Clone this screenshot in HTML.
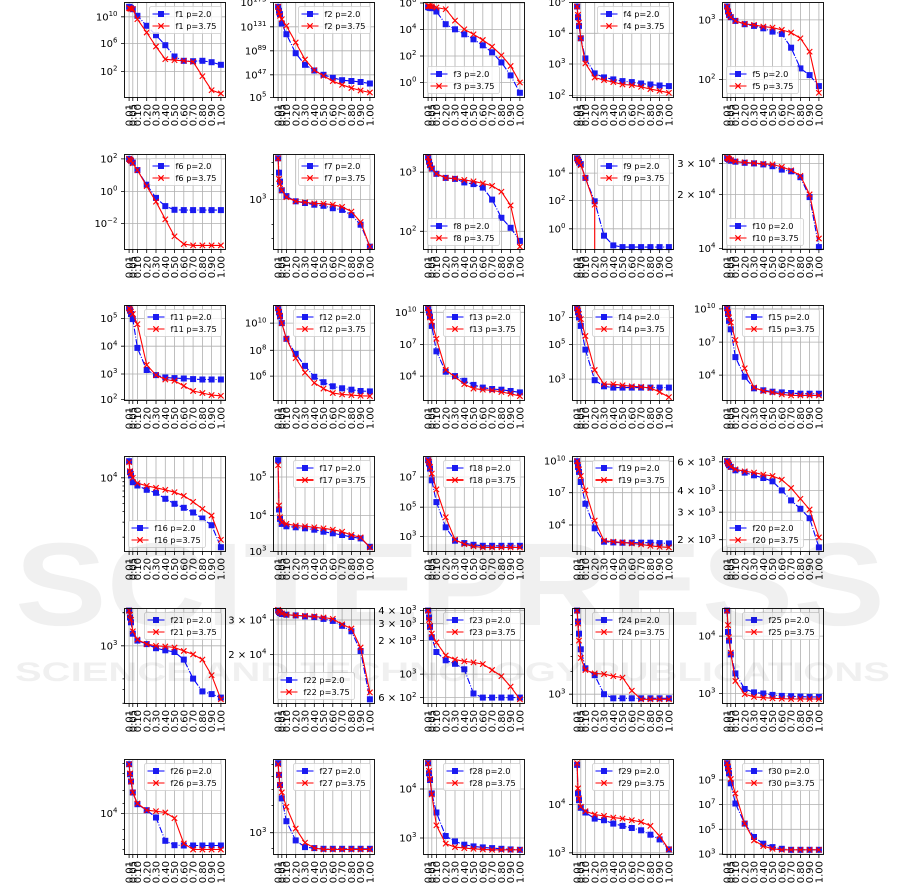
<!DOCTYPE html>
<html><head><meta charset="utf-8"><style>
html,body{margin:0;padding:0;background:#fff}
svg{display:block}
svg text{font-family:"DejaVu Sans","Liberation Sans",sans-serif;fill:#000}
.g{stroke:#b0b0b0;stroke-width:.8;fill:none}
.k{stroke:#000;stroke-width:.8;fill:none}
.sp{fill:none;stroke:#000;stroke-width:.9}
.yl text{font-size:10px;text-anchor:end}
.xl text{font-size:10px;text-anchor:end}
.b{fill:none;stroke:#0000ff;stroke-width:1.1;stroke-dasharray:6.4 1.6 1 1.6;marker-start:url(#ms);marker-mid:url(#ms);marker-end:url(#ms)}
.r{fill:none;stroke:#ff0000;stroke-width:1.1;marker-start:url(#mx);marker-mid:url(#mx);marker-end:url(#mx)}
.lb{fill:none;stroke:#0000ff;stroke-width:1.1;stroke-dasharray:6.4 1.6 1 1.6;marker-mid:url(#ms)}
.lr{fill:none;stroke:#ff0000;stroke-width:1.1;marker-mid:url(#mx)}
.lg rect{fill:#fff;fill-opacity:.8;stroke:#ccc;stroke-width:.8}
.lg text{font-size:8.2px}
</style></head><body>
<svg width="901" height="892" viewBox="0 0 901 892" xmlns="http://www.w3.org/2000/svg">
<defs>
<marker id="ms" markerUnits="userSpaceOnUse" markerWidth="8" markerHeight="8" refX="4" refY="4" overflow="visible"><rect x="1" y="1" width="6" height="6" fill="#1a1af0"/></marker>
<marker id="mx" markerUnits="userSpaceOnUse" markerWidth="8" markerHeight="8" refX="4" refY="4" overflow="visible"><path d="M1.3 1.3L6.7 6.7M6.7 1.3L1.3 6.7" stroke="#ff0000" stroke-width="1.1" fill="none"/></marker>
<g id="vx"><path stroke="#b0b0b0" stroke-width=".8" fill="none" d="M4.6 0V95M8.3 0V95M12.9 0V95M22.2 0V95M31.5 0V95M40.8 0V95M50 0V95M59.3 0V95M68.6 0V95M77.9 0V95M87.1 0V95M96.4 0V95"/><path stroke="#000" stroke-width=".8" fill="none" d="M4.6 95v3.5M8.3 95v3.5M12.9 95v3.5M22.2 95v3.5M31.5 95v3.5M40.8 95v3.5M50 95v3.5M59.3 95v3.5M68.6 95v3.5M77.9 95v3.5M87.1 95v3.5M96.4 95v3.5"/></g>
</defs>

<!-- f1 -->
<g transform="translate(124.5,2.5)">
<use href="#vx"/>
<path class="g" d="M0 14.3H101M0 41H101M0 69H101"/>
<polyline class="b" points="4.6,4.3 5.5,5 6.5,5.7 8.3,6.7 12.9,13.3 22.2,23.3 31.5,32.7 40.8,42.7 50,54 59.3,58.3 68.6,58.7 77.9,58.3 87.1,59.7 96.4,62.3"/>
<polyline class="r" points="4.6,5.7 5.5,6 6.5,6.3 8.3,6.7 12.9,16.7 22.2,30 31.5,44 40.8,56.7 50,57.7 59.3,58.3 68.6,59.3 77.9,73.7 87.1,87.7 96.4,91"/>
<rect class="sp" width="101" height="95"/>
<path class="k" d="M0 14.3h-3.5M0 41h-3.5M0 69h-3.5"/>
<g class="yl"><text x="-7" y="17.8">10<tspan dy="-4.3" font-size="7">10</tspan></text><text x="-7" y="44.5">10<tspan dy="-4.3" font-size="7">6</tspan></text><text x="-7" y="72.5">10<tspan dy="-4.3" font-size="7">2</tspan></text></g>
<g class="xl" transform="translate(0,101.5) rotate(-90)"><text y="8.2">0.01</text><text y="11.9">0.05</text><text y="16.5">0.10</text><text y="25.8">0.20</text><text y="35.1">0.30</text><text y="44.4">0.40</text><text y="53.6">0.50</text><text y="62.9">0.60</text><text y="72.2">0.70</text><text y="81.5">0.80</text><text y="90.7">0.90</text><text y="100">1.00</text></g>
<g class="lg" transform="translate(25,4)"><rect width="72" height="27" rx="2"/><polyline class="lb" points="3,7.5 11.5,7.5 20,7.5"/><polyline class="lr" points="3,19.5 11.5,19.5 20,19.5"/><text x="26" y="10.5">f1 p=2.0</text><text x="26" y="22.5">f1 p=3.75</text></g>
</g>

<!-- f2 -->
<g transform="translate(273.5,2.5)">
<use href="#vx"/>
<path class="g" d="M0 0H101M0 24.3H101M0 48.3H101M0 72.3H101"/>
<polyline class="b" points="4.6,4.3 5.5,8.3 6.5,11.7 8.3,21 12.9,31.7 22.2,50.7 31.5,62.3 40.8,68 50,72.3 59.3,75.3 68.6,77.7 77.9,78.5 87.1,79.5 96.4,81"/>
<polyline class="r" points="4.6,4.3 5.5,10 6.5,13.3 8.3,16.7 12.9,23.3 22.2,40 31.5,57 40.8,67.7 50,73.3 59.3,78.7 68.6,82.3 77.9,85.5 87.1,88 96.4,90"/>
<rect class="sp" width="101" height="95"/>
<path class="k" d="M0 0h-3.5M0 24.3h-3.5M0 48.3h-3.5M0 72.3h-3.5M0 95h-3.5"/>
<g class="yl"><text x="-7" y="3.5">10<tspan dy="-4.3" font-size="7">173</tspan></text><text x="-7" y="27.8">10<tspan dy="-4.3" font-size="7">131</tspan></text><text x="-7" y="51.8">10<tspan dy="-4.3" font-size="7">89</tspan></text><text x="-7" y="75.8">10<tspan dy="-4.3" font-size="7">47</tspan></text><text x="-7" y="98.5">10<tspan dy="-4.3" font-size="7">5</tspan></text></g>
<g class="xl" transform="translate(0,101.5) rotate(-90)"><text y="8.2">0.01</text><text y="11.9">0.05</text><text y="16.5">0.10</text><text y="25.8">0.20</text><text y="35.1">0.30</text><text y="44.4">0.40</text><text y="53.6">0.50</text><text y="62.9">0.60</text><text y="72.2">0.70</text><text y="81.5">0.80</text><text y="90.7">0.90</text><text y="100">1.00</text></g>
<g class="lg" transform="translate(25,4)"><rect width="72" height="27" rx="2"/><polyline class="lb" points="3,7.5 11.5,7.5 20,7.5"/><polyline class="lr" points="3,19.5 11.5,19.5 20,19.5"/><text x="26" y="10.5">f2 p=2.0</text><text x="26" y="22.5">f2 p=3.75</text></g>
</g>

<!-- f3 -->
<g transform="translate(423.5,2.5)">
<use href="#vx"/>
<path class="g" d="M0 0.5H101M0 27H101M0 53.5H101M0 80H101"/>
<polyline class="b" points="4.6,4.7 5.5,5 6.5,5.4 8.3,5.7 12.9,9 22.2,21.7 31.5,26.8 40.8,31.8 50,36.8 59.3,42.8 68.6,49.8 77.9,59.9 87.1,72.9 96.4,90.3"/>
<polyline class="r" points="4.6,3.3 5.5,3.7 6.5,3.8 8.3,4 12.9,5 22.2,6.7 31.5,18.1 40.8,26.8 50,31.8 59.3,37.5 68.6,44.1 77.9,52.8 87.1,63.5 96.4,80"/>
<rect class="sp" width="101" height="95"/>
<path class="k" d="M0 0.5h-3.5M0 27h-3.5M0 53.5h-3.5M0 80h-3.5"/>
<g class="yl"><text x="-7" y="4">10<tspan dy="-4.3" font-size="7">6</tspan></text><text x="-7" y="30.5">10<tspan dy="-4.3" font-size="7">4</tspan></text><text x="-7" y="57">10<tspan dy="-4.3" font-size="7">2</tspan></text><text x="-7" y="83.5">10<tspan dy="-4.3" font-size="7">0</tspan></text></g>
<g class="xl" transform="translate(0,101.5) rotate(-90)"><text y="8.2">0.01</text><text y="11.9">0.05</text><text y="16.5">0.10</text><text y="25.8">0.20</text><text y="35.1">0.30</text><text y="44.4">0.40</text><text y="53.6">0.50</text><text y="62.9">0.60</text><text y="72.2">0.70</text><text y="81.5">0.80</text><text y="90.7">0.90</text><text y="100">1.00</text></g>
<g class="lg" transform="translate(4,64)"><rect width="72" height="27" rx="2"/><polyline class="lb" points="3,7.5 11.5,7.5 20,7.5"/><polyline class="lr" points="3,19.5 11.5,19.5 20,19.5"/><text x="26" y="10.5">f3 p=2.0</text><text x="26" y="22.5">f3 p=3.75</text></g>
</g>

<!-- f4 -->
<g transform="translate(572.5,2.5)">
<use href="#vx"/>
<path class="g" d="M0 0H101M0 30.8H101M0 61.5H101M0 93H101"/>
<polyline class="b" points="4.6,4 5.5,14.7 6.5,23.4 8.3,35.8 12.9,55.9 22.2,70.9 31.5,74.9 40.8,76.9 50,78.6 59.3,79.6 68.6,81 77.9,82 87.1,83 96.4,83.6"/>
<polyline class="r" points="4.6,4 5.5,12.4 6.5,20 8.3,35.8 12.9,60.9 22.2,75 31.5,77.6 40.8,79.6 50,82 59.3,82.6 68.6,84.3 77.9,86.6 87.1,88.3 96.4,90.3"/>
<rect class="sp" width="101" height="95"/>
<path class="k" d="M0 0h-3.5M0 30.8h-3.5M0 61.5h-3.5M0 93h-3.5"/>
<g class="yl"><text x="-7" y="3.5">10<tspan dy="-4.3" font-size="7">5</tspan></text><text x="-7" y="34.3">10<tspan dy="-4.3" font-size="7">4</tspan></text><text x="-7" y="65">10<tspan dy="-4.3" font-size="7">3</tspan></text><text x="-7" y="96.5">10<tspan dy="-4.3" font-size="7">2</tspan></text></g>
<g class="xl" transform="translate(0,101.5) rotate(-90)"><text y="8.2">0.01</text><text y="11.9">0.05</text><text y="16.5">0.10</text><text y="25.8">0.20</text><text y="35.1">0.30</text><text y="44.4">0.40</text><text y="53.6">0.50</text><text y="62.9">0.60</text><text y="72.2">0.70</text><text y="81.5">0.80</text><text y="90.7">0.90</text><text y="100">1.00</text></g>
<g class="lg" transform="translate(25,4)"><rect width="72" height="27" rx="2"/><polyline class="lb" points="3,7.5 11.5,7.5 20,7.5"/><polyline class="lr" points="3,19.5 11.5,19.5 20,19.5"/><text x="26" y="10.5">f4 p=2.0</text><text x="26" y="22.5">f4 p=3.75</text></g>
</g>

<!-- f5 -->
<g transform="translate(722.5,2.5)">
<use href="#vx"/>
<path class="g" d="M0 17.4H101M0 76.9H101"/>
<polyline class="b" points="4.6,4 5.5,9 6.5,12.4 8.3,14.7 12.9,18.4 22.2,21.7 31.5,23.4 40.8,25.8 50,29.1 59.3,31.4 68.6,45.2 77.9,65.9 87.1,72.6 96.4,83.6"/>
<polyline class="r" points="4.6,4 5.5,9 6.5,12.4 8.3,14.7 12.9,18.4 22.2,21.4 31.5,22.4 40.8,24.1 50,25.1 59.3,27.4 68.6,30.1 77.9,35.8 87.1,49.2 96.4,90.3"/>
<rect class="sp" width="101" height="95"/>
<path class="k" d="M0 17.4h-3.5M0 76.9h-3.5"/>
<g class="yl"><text x="-7" y="20.9">10<tspan dy="-4.3" font-size="7">3</tspan></text><text x="-7" y="80.4">10<tspan dy="-4.3" font-size="7">2</tspan></text></g>
<g class="xl" transform="translate(0,101.5) rotate(-90)"><text y="8.2">0.01</text><text y="11.9">0.05</text><text y="16.5">0.10</text><text y="25.8">0.20</text><text y="35.1">0.30</text><text y="44.4">0.40</text><text y="53.6">0.50</text><text y="62.9">0.60</text><text y="72.2">0.70</text><text y="81.5">0.80</text><text y="90.7">0.90</text><text y="100">1.00</text></g>
<g class="lg" transform="translate(4,64)"><rect width="72" height="27" rx="2"/><polyline class="lb" points="3,7.5 11.5,7.5 20,7.5"/><polyline class="lr" points="3,19.5 11.5,19.5 20,19.5"/><text x="26" y="10.5">f5 p=2.0</text><text x="26" y="22.5">f5 p=3.75</text></g>
</g>

<!-- f6 -->
<g transform="translate(124.5,154.5)">
<use href="#vx"/>
<path class="g" d="M0 4.4H101M0 37H101M0 68.9H101"/>
<polyline class="b" points="4.6,4.4 5.5,5.4 6.5,6.1 8.3,8.1 12.9,15.6 22.2,30.2 31.5,43.4 40.8,51.6 50,55.3 59.3,55.6 68.6,55.6 77.9,55.6 87.1,55.6 96.4,55.6"/>
<polyline class="r" points="4.6,4.4 5.5,5.4 6.5,6.4 8.3,8.8 12.9,15.6 22.2,31.6 31.5,47.2 40.8,64.8 50,81.8 59.3,89.6 68.6,90.9 77.9,90.9 87.1,90.9 96.4,90.9"/>
<rect class="sp" width="101" height="95"/>
<path class="k" d="M0 4.4h-3.5M0 37h-3.5M0 68.9h-3.5"/>
<g class="yl"><text x="-7" y="7.9">10<tspan dy="-4.3" font-size="7">2</tspan></text><text x="-7" y="40.5">10<tspan dy="-4.3" font-size="7">0</tspan></text><text x="-7" y="72.4">10<tspan dy="-4.3" font-size="7">−2</tspan></text></g>
<g class="xl" transform="translate(0,101.5) rotate(-90)"><text y="8.2">0.01</text><text y="11.9">0.05</text><text y="16.5">0.10</text><text y="25.8">0.20</text><text y="35.1">0.30</text><text y="44.4">0.40</text><text y="53.6">0.50</text><text y="62.9">0.60</text><text y="72.2">0.70</text><text y="81.5">0.80</text><text y="90.7">0.90</text><text y="100">1.00</text></g>
<g class="lg" transform="translate(25,4)"><rect width="72" height="27" rx="2"/><polyline class="lb" points="3,7.5 11.5,7.5 20,7.5"/><polyline class="lr" points="3,19.5 11.5,19.5 20,19.5"/><text x="26" y="10.5">f6 p=2.0</text><text x="26" y="22.5">f6 p=3.75</text></g>
</g>

<!-- f7 -->
<g transform="translate(273.5,154.5)">
<use href="#vx"/>
<path class="g" d="M0 45H101"/>
<polyline class="b" points="4.6,3.8 5.5,18.2 6.5,27.2 8.3,35.8 12.9,41.6 22.2,46.8 31.5,48.5 40.8,50.2 50,51.3 59.3,53.7 68.6,55.4 77.9,60.6 87.1,70.2 96.4,92.2"/>
<polyline class="r" points="4.6,3.8 5.5,24.4 6.5,29.6 8.3,35.8 12.9,42.7 22.2,46.8 31.5,47.8 40.8,48.9 50,49.2 59.3,50.2 68.6,52.3 77.9,57.1 87.1,67.5 96.4,92.2"/>
<rect class="sp" width="101" height="95"/>
<path class="k" d="M0 45h-3.5M0 8h-2M0 20h-2M0 31h-2M0 70h-2M0 84h-2"/>
<g class="yl"><text x="-7" y="48.5">10<tspan dy="-4.3" font-size="7">3</tspan></text></g>
<g class="xl" transform="translate(0,101.5) rotate(-90)"><text y="8.2">0.01</text><text y="11.9">0.05</text><text y="16.5">0.10</text><text y="25.8">0.20</text><text y="35.1">0.30</text><text y="44.4">0.40</text><text y="53.6">0.50</text><text y="62.9">0.60</text><text y="72.2">0.70</text><text y="81.5">0.80</text><text y="90.7">0.90</text><text y="100">1.00</text></g>
<g class="lg" transform="translate(25,4)"><rect width="72" height="27" rx="2"/><polyline class="lb" points="3,7.5 11.5,7.5 20,7.5"/><polyline class="lr" points="3,19.5 11.5,19.5 20,19.5"/><text x="26" y="10.5">f7 p=2.0</text><text x="26" y="22.5">f7 p=3.75</text></g>
</g>

<!-- f8 -->
<g transform="translate(423.5,154.5)">
<use href="#vx"/>
<path class="g" d="M0 17.6H101M0 76.8H101"/>
<polyline class="b" points="4.6,2.8 5.5,7.2 6.5,10.7 8.3,14.1 12.9,19.3 22.2,23.4 31.5,24.4 40.8,27.9 50,29.6 59.3,33.1 68.6,45.1 77.9,63.3 87.1,73.3 96.4,86.4"/>
<polyline class="r" points="4.6,2.8 5.5,7.2 6.5,10.7 8.3,14.1 12.9,19.3 22.2,23.4 31.5,24.1 40.8,25.5 50,26.8 59.3,28.9 68.6,31.3 77.9,37.2 87.1,50.9 96.4,92.2"/>
<rect class="sp" width="101" height="95"/>
<path class="k" d="M0 17.6h-3.5M0 76.8h-3.5"/>
<g class="yl"><text x="-7" y="21.1">10<tspan dy="-4.3" font-size="7">3</tspan></text><text x="-7" y="80.3">10<tspan dy="-4.3" font-size="7">2</tspan></text></g>
<g class="xl" transform="translate(0,101.5) rotate(-90)"><text y="8.2">0.01</text><text y="11.9">0.05</text><text y="16.5">0.10</text><text y="25.8">0.20</text><text y="35.1">0.30</text><text y="44.4">0.40</text><text y="53.6">0.50</text><text y="62.9">0.60</text><text y="72.2">0.70</text><text y="81.5">0.80</text><text y="90.7">0.90</text><text y="100">1.00</text></g>
<g class="lg" transform="translate(4,64)"><rect width="72" height="27" rx="2"/><polyline class="lb" points="3,7.5 11.5,7.5 20,7.5"/><polyline class="lr" points="3,19.5 11.5,19.5 20,19.5"/><text x="26" y="10.5">f8 p=2.0</text><text x="26" y="22.5">f8 p=3.75</text></g>
</g>

<!-- f9 -->
<g transform="translate(572.5,154.5)">
<use href="#vx"/>
<path class="g" d="M0 18.6H101M0 46.1H101M0 74.3H101"/>
<polyline class="b" points="4.6,3.8 5.5,5.5 6.5,7.2 8.3,9.6 12.9,23.4 22.2,46.8 31.5,81.2 40.8,90.9 50,92.6 59.3,92.6 68.6,92.6 77.9,92.6 87.1,92.6 96.4,92.6"/>
<path d="M22.2 50.2V95" stroke="#ff0000" stroke-width="1.1" fill="none"/>
<polyline class="r" points="4.6,3.8 5.5,6.2 6.5,8.3 8.3,10.7 12.9,23.4 22.2,50.2"/>
<rect class="sp" width="101" height="95"/>
<path class="k" d="M0 18.6h-3.5M0 46.1h-3.5M0 74.3h-3.5"/>
<g class="yl"><text x="-7" y="22.1">10<tspan dy="-4.3" font-size="7">4</tspan></text><text x="-7" y="49.6">10<tspan dy="-4.3" font-size="7">2</tspan></text><text x="-7" y="77.8">10<tspan dy="-4.3" font-size="7">0</tspan></text></g>
<g class="xl" transform="translate(0,101.5) rotate(-90)"><text y="8.2">0.01</text><text y="11.9">0.05</text><text y="16.5">0.10</text><text y="25.8">0.20</text><text y="35.1">0.30</text><text y="44.4">0.40</text><text y="53.6">0.50</text><text y="62.9">0.60</text><text y="72.2">0.70</text><text y="81.5">0.80</text><text y="90.7">0.90</text><text y="100">1.00</text></g>
<g class="lg" transform="translate(25,4)"><rect width="72" height="27" rx="2"/><polyline class="lb" points="3,7.5 11.5,7.5 20,7.5"/><polyline class="lr" points="3,19.5 11.5,19.5 20,19.5"/><text x="26" y="10.5">f9 p=2.0</text><text x="26" y="22.5">f9 p=3.75</text></g>
</g>

<!-- f10 -->
<g transform="translate(722.5,154.5)">
<use href="#vx"/>
<path class="g" d="M0 8.9H101M0 39.9H101M0 94H101"/>
<polyline class="b" points="4.6,3.8 5.5,4.5 6.5,5.2 8.3,6.2 12.9,7.2 22.2,8.3 31.5,8.9 40.8,9.9 50,11.7 59.3,15.1 68.6,16.8 77.9,22.7 87.1,42.6 96.4,92.6"/>
<polyline class="r" points="4.6,3.1 5.5,3.8 6.5,4.5 8.3,5.5 12.9,6.9 22.2,7.9 31.5,8.6 40.8,9.3 50,9.9 59.3,12.4 68.6,15.8 77.9,21.3 87.1,39.9 96.4,84"/>
<rect class="sp" width="101" height="95"/>
<path class="k" d="M0 8.9h-3.5M0 39.9h-3.5M0 94h-3.5"/>
<g class="yl"><text x="-7" y="12.4">3 × 10<tspan dy="-4.3" font-size="7">4</tspan></text><text x="-7" y="43.4">2 × 10<tspan dy="-4.3" font-size="7">4</tspan></text><text x="-7" y="97.5">10<tspan dy="-4.3" font-size="7">4</tspan></text></g>
<g class="xl" transform="translate(0,101.5) rotate(-90)"><text y="8.2">0.01</text><text y="11.9">0.05</text><text y="16.5">0.10</text><text y="25.8">0.20</text><text y="35.1">0.30</text><text y="44.4">0.40</text><text y="53.6">0.50</text><text y="62.9">0.60</text><text y="72.2">0.70</text><text y="81.5">0.80</text><text y="90.7">0.90</text><text y="100">1.00</text></g>
<g class="lg" transform="translate(4,64)"><rect width="77" height="27" rx="2"/><polyline class="lb" points="3,7.5 11.5,7.5 20,7.5"/><polyline class="lr" points="3,19.5 11.5,19.5 20,19.5"/><text x="26" y="10.5">f10 p=2.0</text><text x="26" y="22.5">f10 p=3.75</text></g>
</g>

<!-- f11 -->
<g transform="translate(124.5,305.5)">
<use href="#vx"/>
<path class="g" d="M0 12.9H101M0 40.7H101M0 68.5H101M0 94H101"/>
<polyline class="b" points="4.6,2.7 5.5,5.1 6.5,8.5 8.3,13.6 12.9,42.4 22.2,64.5 31.5,69.6 40.8,72 50,72.6 59.3,73 68.6,73.6 77.9,74 87.1,74 96.4,74"/>
<polyline class="r" points="4.6,2.7 5.5,4.1 6.5,6.1 8.3,8.5 12.9,18.7 22.2,59.4 31.5,69.6 40.8,74 50,75.3 59.3,80.4 68.6,85.5 77.9,87.5 87.1,89.6 96.4,90.3"/>
<rect class="sp" width="101" height="95"/>
<path class="k" d="M0 12.9h-3.5M0 40.7h-3.5M0 68.5h-3.5M0 94h-3.5"/>
<g class="yl"><text x="-7" y="16.4">10<tspan dy="-4.3" font-size="7">5</tspan></text><text x="-7" y="44.2">10<tspan dy="-4.3" font-size="7">4</tspan></text><text x="-7" y="72">10<tspan dy="-4.3" font-size="7">3</tspan></text><text x="-7" y="97.5">10<tspan dy="-4.3" font-size="7">2</tspan></text></g>
<g class="xl" transform="translate(0,101.5) rotate(-90)"><text y="8.2">0.01</text><text y="11.9">0.05</text><text y="16.5">0.10</text><text y="25.8">0.20</text><text y="35.1">0.30</text><text y="44.4">0.40</text><text y="53.6">0.50</text><text y="62.9">0.60</text><text y="72.2">0.70</text><text y="81.5">0.80</text><text y="90.7">0.90</text><text y="100">1.00</text></g>
<g class="lg" transform="translate(20,4)"><rect width="77" height="27" rx="2"/><polyline class="lb" points="3,7.5 11.5,7.5 20,7.5"/><polyline class="lr" points="3,19.5 11.5,19.5 20,19.5"/><text x="26" y="10.5">f11 p=2.0</text><text x="26" y="22.5">f11 p=3.75</text></g>
</g>

<!-- f12 -->
<g transform="translate(273.5,305.5)">
<use href="#vx"/>
<path class="g" d="M0 17.6H101M0 44.8H101M0 70.6H101"/>
<polyline class="b" points="4.6,2.7 5.5,6.8 6.5,10.9 8.3,17.6 12.9,33.3 22.2,48.5 31.5,60.4 40.8,71.3 50,76.7 59.3,80.8 68.6,82.8 77.9,84.2 87.1,85.5 96.4,85.9"/>
<polyline class="r" points="4.6,2.7 5.5,6.1 6.5,10.2 8.3,17.6 12.9,33.3 22.2,52.6 31.5,67.2 40.8,77.4 50,83.1 59.3,87.5 68.6,88.9 77.9,89.6 87.1,90.3 96.4,90.6"/>
<rect class="sp" width="101" height="95"/>
<path class="k" d="M0 17.6h-3.5M0 44.8h-3.5M0 70.6h-3.5"/>
<g class="yl"><text x="-7" y="21.1">10<tspan dy="-4.3" font-size="7">10</tspan></text><text x="-7" y="48.3">10<tspan dy="-4.3" font-size="7">8</tspan></text><text x="-7" y="74.1">10<tspan dy="-4.3" font-size="7">6</tspan></text></g>
<g class="xl" transform="translate(0,101.5) rotate(-90)"><text y="8.2">0.01</text><text y="11.9">0.05</text><text y="16.5">0.10</text><text y="25.8">0.20</text><text y="35.1">0.30</text><text y="44.4">0.40</text><text y="53.6">0.50</text><text y="62.9">0.60</text><text y="72.2">0.70</text><text y="81.5">0.80</text><text y="90.7">0.90</text><text y="100">1.00</text></g>
<g class="lg" transform="translate(20,4)"><rect width="77" height="27" rx="2"/><polyline class="lb" points="3,7.5 11.5,7.5 20,7.5"/><polyline class="lr" points="3,19.5 11.5,19.5 20,19.5"/><text x="26" y="10.5">f12 p=2.0</text><text x="26" y="22.5">f12 p=3.75</text></g>
</g>

<!-- f13 -->
<g transform="translate(423.5,305.5)">
<use href="#vx"/>
<path class="g" d="M0 6.8H101M0 39H101M0 70.6H101"/>
<polyline class="b" points="4.6,2.7 5.5,6.8 6.5,10.9 8.3,20.4 12.9,45.8 22.2,66.2 31.5,70.6 40.8,75.3 50,79.4 59.3,82.1 68.6,83.5 77.9,84.2 87.1,85.5 96.4,86.9"/>
<polyline class="r" points="4.6,2.7 5.5,6.8 6.5,11.9 8.3,16.3 12.9,33.3 22.2,64.5 31.5,71.3 40.8,78.7 50,83.1 59.3,84.2 68.6,84.8 77.9,86.5 87.1,88.2 96.4,90.6"/>
<rect class="sp" width="101" height="95"/>
<path class="k" d="M0 6.8h-3.5M0 39h-3.5M0 70.6h-3.5"/>
<g class="yl"><text x="-7" y="10.3">10<tspan dy="-4.3" font-size="7">10</tspan></text><text x="-7" y="42.5">10<tspan dy="-4.3" font-size="7">7</tspan></text><text x="-7" y="74.1">10<tspan dy="-4.3" font-size="7">4</tspan></text></g>
<g class="xl" transform="translate(0,101.5) rotate(-90)"><text y="8.2">0.01</text><text y="11.9">0.05</text><text y="16.5">0.10</text><text y="25.8">0.20</text><text y="35.1">0.30</text><text y="44.4">0.40</text><text y="53.6">0.50</text><text y="62.9">0.60</text><text y="72.2">0.70</text><text y="81.5">0.80</text><text y="90.7">0.90</text><text y="100">1.00</text></g>
<g class="lg" transform="translate(20,4)"><rect width="77" height="27" rx="2"/><polyline class="lb" points="3,7.5 11.5,7.5 20,7.5"/><polyline class="lr" points="3,19.5 11.5,19.5 20,19.5"/><text x="26" y="10.5">f13 p=2.0</text><text x="26" y="22.5">f13 p=3.75</text></g>
</g>

<!-- f14 -->
<g transform="translate(572.5,305.5)">
<use href="#vx"/>
<path class="g" d="M0 11.9H101M0 39H101M0 73.6H101"/>
<polyline class="b" points="4.6,2.7 5.5,6.8 6.5,11.9 8.3,20.4 12.9,44.1 22.2,74.7 31.5,80.8 40.8,82.1 50,82.1 59.3,82.1 68.6,82.1 77.9,82.1 87.1,82.1 96.4,82.1"/>
<polyline class="r" points="4.6,2.7 5.5,5.1 6.5,8.5 8.3,13.6 12.9,30.5 22.2,64.5 31.5,78.7 40.8,78.7 50,79.8 59.3,80.8 68.6,81.4 77.9,82.5 87.1,86.5 96.4,91.6"/>
<rect class="sp" width="101" height="95"/>
<path class="k" d="M0 11.9h-3.5M0 39h-3.5M0 73.6h-3.5"/>
<g class="yl"><text x="-7" y="15.4">10<tspan dy="-4.3" font-size="7">7</tspan></text><text x="-7" y="42.5">10<tspan dy="-4.3" font-size="7">5</tspan></text><text x="-7" y="77.1">10<tspan dy="-4.3" font-size="7">3</tspan></text></g>
<g class="xl" transform="translate(0,101.5) rotate(-90)"><text y="8.2">0.01</text><text y="11.9">0.05</text><text y="16.5">0.10</text><text y="25.8">0.20</text><text y="35.1">0.30</text><text y="44.4">0.40</text><text y="53.6">0.50</text><text y="62.9">0.60</text><text y="72.2">0.70</text><text y="81.5">0.80</text><text y="90.7">0.90</text><text y="100">1.00</text></g>
<g class="lg" transform="translate(20,4)"><rect width="77" height="27" rx="2"/><polyline class="lb" points="3,7.5 11.5,7.5 20,7.5"/><polyline class="lr" points="3,19.5 11.5,19.5 20,19.5"/><text x="26" y="10.5">f14 p=2.0</text><text x="26" y="22.5">f14 p=3.75</text></g>
</g>

<!-- f15 -->
<g transform="translate(722.5,305.5)">
<use href="#vx"/>
<path class="g" d="M0 3.4H101M0 36.6H101M0 69.6H101"/>
<polyline class="b" points="4.6,2.7 5.5,8.5 6.5,15.3 8.3,23.8 12.9,51.6 22.2,71.3 31.5,82.8 40.8,84.8 50,86.2 59.3,86.9 68.6,87.5 77.9,88.2 87.1,88.2 96.4,88.2"/>
<polyline class="r" points="4.6,2.7 5.5,6.8 6.5,11.9 8.3,17 12.9,34.6 22.2,62.8 31.5,82.1 40.8,85.5 50,86.9 59.3,88.9 68.6,89.9 77.9,89.9 87.1,89.9 96.4,89.9"/>
<rect class="sp" width="101" height="95"/>
<path class="k" d="M0 3.4h-3.5M0 36.6h-3.5M0 69.6h-3.5"/>
<g class="yl"><text x="-7" y="6.9">10<tspan dy="-4.3" font-size="7">10</tspan></text><text x="-7" y="40.1">10<tspan dy="-4.3" font-size="7">7</tspan></text><text x="-7" y="73.1">10<tspan dy="-4.3" font-size="7">4</tspan></text></g>
<g class="xl" transform="translate(0,101.5) rotate(-90)"><text y="8.2">0.01</text><text y="11.9">0.05</text><text y="16.5">0.10</text><text y="25.8">0.20</text><text y="35.1">0.30</text><text y="44.4">0.40</text><text y="53.6">0.50</text><text y="62.9">0.60</text><text y="72.2">0.70</text><text y="81.5">0.80</text><text y="90.7">0.90</text><text y="100">1.00</text></g>
<g class="lg" transform="translate(20,4)"><rect width="77" height="27" rx="2"/><polyline class="lb" points="3,7.5 11.5,7.5 20,7.5"/><polyline class="lr" points="3,19.5 11.5,19.5 20,19.5"/><text x="26" y="10.5">f15 p=2.0</text><text x="26" y="22.5">f15 p=3.75</text></g>
</g>

<!-- f16 -->
<g transform="translate(124.5,456.5)">
<use href="#vx"/>
<path class="g" d="M0 21.3H101"/>
<polyline class="b" points="4.6,4.7 5.5,15.7 6.5,19 8.3,25.7 12.9,29 22.2,33.3 31.5,36.3 40.8,42.3 50,47.3 59.3,51.3 68.6,56 77.9,62 87.1,68.7 96.4,90.7"/>
<polyline class="r" points="4.6,5.7 5.5,14.7 6.5,17.3 8.3,21.3 12.9,26.7 22.2,29.3 31.5,31.3 40.8,33.3 50,35.7 59.3,39.3 68.6,45.3 77.9,52.3 87.1,59 96.4,83.3"/>
<rect class="sp" width="101" height="95"/>
<path class="k" d="M0 21.3h-3.5M0 80.7h-2M0 65.7h-2M0 55.1h-2M0 46.9h-2M0 40.2h-2M0 34.5h-2M0 29.5h-2M0 25.2h-2"/>
<g class="yl"><text x="-7" y="24.8">10<tspan dy="-4.3" font-size="7">4</tspan></text></g>
<g class="xl" transform="translate(0,101.5) rotate(-90)"><text y="8.2">0.01</text><text y="11.9">0.05</text><text y="16.5">0.10</text><text y="25.8">0.20</text><text y="35.1">0.30</text><text y="44.4">0.40</text><text y="53.6">0.50</text><text y="62.9">0.60</text><text y="72.2">0.70</text><text y="81.5">0.80</text><text y="90.7">0.90</text><text y="100">1.00</text></g>
<g class="lg" transform="translate(4,64)"><rect width="77" height="27" rx="2"/><polyline class="lb" points="3,7.5 11.5,7.5 20,7.5"/><polyline class="lr" points="3,19.5 11.5,19.5 20,19.5"/><text x="26" y="10.5">f16 p=2.0</text><text x="26" y="22.5">f16 p=3.75</text></g>
</g>

<!-- f17 -->
<g transform="translate(273.5,456.5)">
<use href="#vx"/>
<path class="g" d="M0 20.5H101M0 59.1H101"/>
<polyline class="b" points="4.6,3.7 5.5,53 6.5,62.4 8.3,67.4 12.9,69.8 22.2,70.8 31.5,71.8 40.8,73.2 50,75.2 59.3,76.8 68.6,78.5 77.9,80.5 87.1,81.9 96.4,90.3"/>
<polyline class="r" points="4.6,8.7 5.5,49 6.5,60.7 8.3,65.8 12.9,67.4 22.2,69.1 31.5,69.8 40.8,70.8 50,71.8 59.3,73.2 68.6,75.2 77.9,78.5 87.1,80.9 96.4,90.9"/>
<rect class="sp" width="101" height="95"/>
<path class="k" d="M0 20.5h-3.5M0 59.1h-3.5M0 95h-3.5"/>
<g class="yl"><text x="-7" y="24">10<tspan dy="-4.3" font-size="7">5</tspan></text><text x="-7" y="62.6">10<tspan dy="-4.3" font-size="7">4</tspan></text><text x="-7" y="98.5">10<tspan dy="-4.3" font-size="7">3</tspan></text></g>
<g class="xl" transform="translate(0,101.5) rotate(-90)"><text y="8.2">0.01</text><text y="11.9">0.05</text><text y="16.5">0.10</text><text y="25.8">0.20</text><text y="35.1">0.30</text><text y="44.4">0.40</text><text y="53.6">0.50</text><text y="62.9">0.60</text><text y="72.2">0.70</text><text y="81.5">0.80</text><text y="90.7">0.90</text><text y="100">1.00</text></g>
<g class="lg" transform="translate(20,4)"><rect width="77" height="27" rx="2"/><polyline class="lb" points="3,7.5 11.5,7.5 20,7.5"/><polyline class="lr" points="3,19.5 11.5,19.5 20,19.5" style="stroke-width:1.8"/><text x="26" y="10.5">f17 p=2.0</text><text x="26" y="22.5">f17 p=3.75</text></g>
</g>

<!-- f18 -->
<g transform="translate(423.5,456.5)">
<use href="#vx"/>
<path class="g" d="M0 20.5H101M0 50.7H101M0 79.9H101"/>
<polyline class="b" points="4.6,3.7 5.5,7 6.5,12.1 8.3,23.8 12.9,45.6 22.2,70.8 31.5,84.2 40.8,86.6 50,88.3 59.3,89.3 68.6,89.3 77.9,89.3 87.1,89.3 96.4,89.3"/>
<polyline class="r" points="4.6,3.7 5.5,5.4 6.5,10.4 8.3,17.1 12.9,32.9 22.2,60.7 31.5,83.2 40.8,87.6 50,89.9 59.3,90.9 68.6,90.9 77.9,90.9 87.1,90.9 96.4,90.9"/>
<rect class="sp" width="101" height="95"/>
<path class="k" d="M0 20.5h-3.5M0 50.7h-3.5M0 79.9h-3.5"/>
<g class="yl"><text x="-7" y="24">10<tspan dy="-4.3" font-size="7">7</tspan></text><text x="-7" y="54.2">10<tspan dy="-4.3" font-size="7">5</tspan></text><text x="-7" y="83.4">10<tspan dy="-4.3" font-size="7">3</tspan></text></g>
<g class="xl" transform="translate(0,101.5) rotate(-90)"><text y="8.2">0.01</text><text y="11.9">0.05</text><text y="16.5">0.10</text><text y="25.8">0.20</text><text y="35.1">0.30</text><text y="44.4">0.40</text><text y="53.6">0.50</text><text y="62.9">0.60</text><text y="72.2">0.70</text><text y="81.5">0.80</text><text y="90.7">0.90</text><text y="100">1.00</text></g>
<g class="lg" transform="translate(20,4)"><rect width="77" height="27" rx="2"/><polyline class="lb" points="3,7.5 11.5,7.5 20,7.5"/><polyline class="lr" points="3,19.5 11.5,19.5 20,19.5" style="stroke-width:1.8"/><text x="26" y="10.5">f18 p=2.0</text><text x="26" y="22.5">f18 p=3.75</text></g>
</g>

<!-- f19 -->
<g transform="translate(572.5,456.5)">
<use href="#vx"/>
<path class="g" d="M0 4.7H101M0 36.2H101M0 68.5H101"/>
<polyline class="b" points="4.6,4.7 5.5,10.4 6.5,15.4 8.3,25.5 12.9,47.3 22.2,71.8 31.5,85.2 40.8,85.9 50,86.2 59.3,86.2 68.6,86.2 77.9,86.2 87.1,86.6 96.4,86.9"/>
<polyline class="r" points="4.6,4.7 5.5,8.7 6.5,12.8 8.3,19.5 12.9,33.9 22.2,64.1 31.5,84.2 40.8,85.2 50,85.9 59.3,86.9 68.6,87.9 77.9,89.3 87.1,90.3 96.4,90.9"/>
<rect class="sp" width="101" height="95"/>
<path class="k" d="M0 4.7h-3.5M0 36.2h-3.5M0 68.5h-3.5"/>
<g class="yl"><text x="-7" y="8.2">10<tspan dy="-4.3" font-size="7">10</tspan></text><text x="-7" y="39.7">10<tspan dy="-4.3" font-size="7">7</tspan></text><text x="-7" y="72">10<tspan dy="-4.3" font-size="7">4</tspan></text></g>
<g class="xl" transform="translate(0,101.5) rotate(-90)"><text y="8.2">0.01</text><text y="11.9">0.05</text><text y="16.5">0.10</text><text y="25.8">0.20</text><text y="35.1">0.30</text><text y="44.4">0.40</text><text y="53.6">0.50</text><text y="62.9">0.60</text><text y="72.2">0.70</text><text y="81.5">0.80</text><text y="90.7">0.90</text><text y="100">1.00</text></g>
<g class="lg" transform="translate(20,4)"><rect width="77" height="27" rx="2"/><polyline class="lb" points="3,7.5 11.5,7.5 20,7.5"/><polyline class="lr" points="3,19.5 11.5,19.5 20,19.5" style="stroke-width:1.8"/><text x="26" y="10.5">f19 p=2.0</text><text x="26" y="22.5">f19 p=3.75</text></g>
</g>

<!-- f20 -->
<g transform="translate(722.5,456.5)">
<use href="#vx"/>
<path class="g" d="M0 5.4H101M0 33.9H101M0 55.7H101M0 83.2H101"/>
<polyline class="b" points="4.6,4.7 5.5,7 6.5,8.7 8.3,10.4 12.9,13.8 22.2,16.1 31.5,18.8 40.8,21.5 50,24.8 59.3,33.9 68.6,43.9 77.9,52.3 87.1,61.7 96.4,90.9"/>
<polyline class="r" points="4.6,4.7 5.5,6.4 6.5,8 8.3,10.4 12.9,12.8 22.2,14.8 31.5,16.1 40.8,18.1 50,19.5 59.3,23.2 68.6,31.5 77.9,42.3 87.1,53 96.4,80.9"/>
<rect class="sp" width="101" height="95"/>
<path class="k" d="M0 5.4h-3.5M0 33.9h-3.5M0 55.7h-3.5M0 83.2h-3.5"/>
<g class="yl"><text x="-7" y="8.9">6 × 10<tspan dy="-4.3" font-size="7">3</tspan></text><text x="-7" y="37.4">4 × 10<tspan dy="-4.3" font-size="7">3</tspan></text><text x="-7" y="59.2">3 × 10<tspan dy="-4.3" font-size="7">3</tspan></text><text x="-7" y="86.7">2 × 10<tspan dy="-4.3" font-size="7">3</tspan></text></g>
<g class="xl" transform="translate(0,101.5) rotate(-90)"><text y="8.2">0.01</text><text y="11.9">0.05</text><text y="16.5">0.10</text><text y="25.8">0.20</text><text y="35.1">0.30</text><text y="44.4">0.40</text><text y="53.6">0.50</text><text y="62.9">0.60</text><text y="72.2">0.70</text><text y="81.5">0.80</text><text y="90.7">0.90</text><text y="100">1.00</text></g>
<g class="lg" transform="translate(4,64)"><rect width="77" height="27" rx="2"/><polyline class="lb" points="3,7.5 11.5,7.5 20,7.5"/><polyline class="lr" points="3,19.5 11.5,19.5 20,19.5"/><text x="26" y="10.5">f20 p=2.0</text><text x="26" y="22.5">f20 p=3.75</text></g>
</g>

<!-- f21 -->
<g transform="translate(124.5,608.5)">
<use href="#vx"/>
<path class="g" d="M0 37.3H101"/>
<polyline class="b" points="4.6,2.1 5.5,9 6.5,13.8 8.3,25.2 12.9,32.1 22.2,35.6 31.5,39.7 40.8,41.8 50,43.5 59.3,51.1 68.6,70.1 77.9,82.9 87.1,85.6 96.4,89.1"/>
<polyline class="r" points="4.6,2.1 5.5,6.2 6.5,11.4 8.3,22.8 12.9,31.1 22.2,35.6 31.5,37.3 40.8,38 50,39 59.3,42.5 68.6,45.9 77.9,51.1 87.1,66.7 96.4,90.8"/>
<rect class="sp" width="101" height="95"/>
<path class="k" d="M0 37.3h-3.5M0 4.2h-2M0 70.4h-2M0 81h-2M0 94.8h-2"/>
<g class="yl"><text x="-7" y="40.8">10<tspan dy="-4.3" font-size="7">3</tspan></text></g>
<g class="xl" transform="translate(0,101.5) rotate(-90)"><text y="8.2">0.01</text><text y="11.9">0.05</text><text y="16.5">0.10</text><text y="25.8">0.20</text><text y="35.1">0.30</text><text y="44.4">0.40</text><text y="53.6">0.50</text><text y="62.9">0.60</text><text y="72.2">0.70</text><text y="81.5">0.80</text><text y="90.7">0.90</text><text y="100">1.00</text></g>
<g class="lg" transform="translate(20,4)"><rect width="77" height="27" rx="2"/><polyline class="lb" points="3,7.5 11.5,7.5 20,7.5"/><polyline class="lr" points="3,19.5 11.5,19.5 20,19.5"/><text x="26" y="10.5">f21 p=2.0</text><text x="26" y="22.5">f21 p=3.75</text></g>
</g>

<!-- f22 -->
<g transform="translate(273.5,608.5)">
<use href="#vx"/>
<path class="g" d="M0 11.5H101M0 45.9H101"/>
<polyline class="b" points="4.6,2.1 5.5,3.5 6.5,4.5 8.3,5.5 12.9,6.2 22.2,6.9 31.5,7.9 40.8,8.6 50,10.4 59.3,12.4 68.6,17.3 77.9,22.8 87.1,42.5 96.4,90.8"/>
<polyline class="r" points="4.6,1.4 5.5,2.8 6.5,3.8 8.3,4.8 12.9,6.2 22.2,6.9 31.5,7.3 40.8,7.9 50,9 59.3,10.4 68.6,15.9 77.9,20 87.1,39 96.4,83.9"/>
<rect class="sp" width="101" height="95"/>
<path class="k" d="M0 11.5h-3.5M0 45.9h-3.5"/>
<g class="yl"><text x="-7" y="15">3 × 10<tspan dy="-4.3" font-size="7">4</tspan></text><text x="-7" y="49.4">2 × 10<tspan dy="-4.3" font-size="7">4</tspan></text></g>
<g class="xl" transform="translate(0,101.5) rotate(-90)"><text y="8.2">0.01</text><text y="11.9">0.05</text><text y="16.5">0.10</text><text y="25.8">0.20</text><text y="35.1">0.30</text><text y="44.4">0.40</text><text y="53.6">0.50</text><text y="62.9">0.60</text><text y="72.2">0.70</text><text y="81.5">0.80</text><text y="90.7">0.90</text><text y="100">1.00</text></g>
<g class="lg" transform="translate(4,64)"><rect width="77" height="27" rx="2"/><polyline class="lb" points="3,7.5 11.5,7.5 20,7.5"/><polyline class="lr" points="3,19.5 11.5,19.5 20,19.5"/><text x="26" y="10.5">f22 p=2.0</text><text x="26" y="22.5">f22 p=3.75</text></g>
</g>

<!-- f23 -->
<g transform="translate(423.5,608.5)">
<use href="#vx"/>
<path class="g" d="M0 2.1H101M0 14.9H101M0 32.1H101M0 65.6H101M0 89.1H101"/>
<polyline class="b" points="4.6,2.1 5.5,9 6.5,18.3 8.3,28.7 12.9,43.5 22.2,51.8 31.5,55.3 40.8,60.8 50,85 59.3,89.1 68.6,89.1 77.9,89.1 87.1,89.1 96.4,89.1"/>
<polyline class="r" points="4.6,2.1 5.5,11.4 6.5,17.3 8.3,25.2 12.9,33.9 22.2,47 31.5,51.1 40.8,52.8 50,53.9 59.3,55.6 68.6,61.5 77.9,67.7 87.1,78.1 96.4,90.8"/>
<rect class="sp" width="101" height="95"/>
<path class="k" d="M0 2.1h-3.5M0 14.9h-3.5M0 32.1h-3.5M0 65.6h-3.5M0 89.1h-3.5"/>
<g class="yl"><text x="-7" y="5.6">4 × 10<tspan dy="-4.3" font-size="7">3</tspan></text><text x="-7" y="18.4">3 × 10<tspan dy="-4.3" font-size="7">3</tspan></text><text x="-7" y="35.6">2 × 10<tspan dy="-4.3" font-size="7">3</tspan></text><text x="-7" y="69.1">10<tspan dy="-4.3" font-size="7">3</tspan></text><text x="-7" y="92.6">6 × 10<tspan dy="-4.3" font-size="7">2</tspan></text></g>
<g class="xl" transform="translate(0,101.5) rotate(-90)"><text y="8.2">0.01</text><text y="11.9">0.05</text><text y="16.5">0.10</text><text y="25.8">0.20</text><text y="35.1">0.30</text><text y="44.4">0.40</text><text y="53.6">0.50</text><text y="62.9">0.60</text><text y="72.2">0.70</text><text y="81.5">0.80</text><text y="90.7">0.90</text><text y="100">1.00</text></g>
<g class="lg" transform="translate(20,4)"><rect width="77" height="27" rx="2"/><polyline class="lb" points="3,7.5 11.5,7.5 20,7.5"/><polyline class="lr" points="3,19.5 11.5,19.5 20,19.5"/><text x="26" y="10.5">f23 p=2.0</text><text x="26" y="22.5">f23 p=3.75</text></g>
</g>

<!-- f24 -->
<g transform="translate(572.5,608.5)">
<use href="#vx"/>
<path class="g" d="M0 85.7H101"/>
<polyline class="b" points="4.6,2.1 5.5,13.1 6.5,25.2 8.3,40.8 12.9,59.8 22.2,66.7 31.5,85.7 40.8,89.8 50,89.8 59.3,89.8 68.6,89.8 77.9,89.8 87.1,89.8 96.4,89.8"/>
<polyline class="r" points="4.6,2.1 5.5,14.9 6.5,32.1 8.3,49.4 12.9,61.5 22.2,64.9 31.5,65.6 40.8,67.7 50,69.1 59.3,82.2 68.6,90.8 77.9,90.8 87.1,90.8 96.4,90.8"/>
<rect class="sp" width="101" height="95"/>
<path class="k" d="M0 85.7h-3.5M0 7h-2M0 16h-2M0 26h-2M0 36h-2M0 48h-2M0 63h-2"/>
<g class="yl"><text x="-7" y="89.2">10<tspan dy="-4.3" font-size="7">3</tspan></text></g>
<g class="xl" transform="translate(0,101.5) rotate(-90)"><text y="8.2">0.01</text><text y="11.9">0.05</text><text y="16.5">0.10</text><text y="25.8">0.20</text><text y="35.1">0.30</text><text y="44.4">0.40</text><text y="53.6">0.50</text><text y="62.9">0.60</text><text y="72.2">0.70</text><text y="81.5">0.80</text><text y="90.7">0.90</text><text y="100">1.00</text></g>
<g class="lg" transform="translate(20,4)"><rect width="77" height="27" rx="2"/><polyline class="lb" points="3,7.5 11.5,7.5 20,7.5"/><polyline class="lr" points="3,19.5 11.5,19.5 20,19.5"/><text x="26" y="10.5">f24 p=2.0</text><text x="26" y="22.5">f24 p=3.75</text></g>
</g>

<!-- f25 -->
<g transform="translate(722.5,608.5)">
<use href="#vx"/>
<path class="g" d="M0 27.6H101M0 85H101"/>
<polyline class="b" points="4.6,2.1 5.5,23.5 6.5,32.1 8.3,45.9 12.9,64.9 22.2,80.5 31.5,83.9 40.8,85 50,86.4 59.3,87.4 68.6,87.7 77.9,88.1 87.1,88.4 96.4,88.4"/>
<polyline class="r" points="4.6,2.1 5.5,16.6 6.5,28.7 8.3,44.2 12.9,72.5 22.2,85.7 31.5,88.4 40.8,89.1 50,89.8 59.3,90.2 68.6,90.5 77.9,90.5 87.1,90.5 96.4,90.5"/>
<rect class="sp" width="101" height="95"/>
<path class="k" d="M0 27.6h-3.5M0 85h-3.5"/>
<g class="yl"><text x="-7" y="31.1">10<tspan dy="-4.3" font-size="7">4</tspan></text><text x="-7" y="88.5">10<tspan dy="-4.3" font-size="7">3</tspan></text></g>
<g class="xl" transform="translate(0,101.5) rotate(-90)"><text y="8.2">0.01</text><text y="11.9">0.05</text><text y="16.5">0.10</text><text y="25.8">0.20</text><text y="35.1">0.30</text><text y="44.4">0.40</text><text y="53.6">0.50</text><text y="62.9">0.60</text><text y="72.2">0.70</text><text y="81.5">0.80</text><text y="90.7">0.90</text><text y="100">1.00</text></g>
<g class="lg" transform="translate(20,4)"><rect width="77" height="27" rx="2"/><polyline class="lb" points="3,7.5 11.5,7.5 20,7.5"/><polyline class="lr" points="3,19.5 11.5,19.5 20,19.5"/><text x="26" y="10.5">f25 p=2.0</text><text x="26" y="22.5">f25 p=3.75</text></g>
</g>

<!-- f26 -->
<g transform="translate(124.5,759.5)">
<use href="#vx"/>
<path class="g" d="M0 54H101"/>
<polyline class="b" points="4.6,4.7 5.5,14.7 6.5,22 8.3,33 12.9,44.7 22.2,50.7 31.5,58 40.8,81.3 50,85.7 59.3,86 68.6,86 77.9,86 87.1,86 96.4,86"/>
<polyline class="r" points="4.6,4.7 5.5,14 6.5,22 8.3,33 12.9,44 22.2,50.7 31.5,51.7 40.8,53 50,58.7 59.3,84 68.6,90 77.9,90 87.1,90 96.4,90"/>
<rect class="sp" width="101" height="95"/>
<path class="k" d="M0 54h-3.5M0 4h-2M0 14h-2M0 31h-2M0 44h-2M0 70h-2M0 80h-2M0 90h-2"/>
<g class="yl"><text x="-7" y="57.5">10<tspan dy="-4.3" font-size="7">4</tspan></text></g>
<g class="xl" transform="translate(0,101.5) rotate(-90)"><text y="8.2">0.01</text><text y="11.9">0.05</text><text y="16.5">0.10</text><text y="25.8">0.20</text><text y="35.1">0.30</text><text y="44.4">0.40</text><text y="53.6">0.50</text><text y="62.9">0.60</text><text y="72.2">0.70</text><text y="81.5">0.80</text><text y="90.7">0.90</text><text y="100">1.00</text></g>
<g class="lg" transform="translate(20,4)"><rect width="77" height="27" rx="2"/><polyline class="lb" points="3,7.5 11.5,7.5 20,7.5"/><polyline class="lr" points="3,19.5 11.5,19.5 20,19.5"/><text x="26" y="10.5">f26 p=2.0</text><text x="26" y="22.5">f26 p=3.75</text></g>
</g>

<!-- f27 -->
<g transform="translate(273.5,759.5)">
<use href="#vx"/>
<path class="g" d="M0 73.2H101"/>
<polyline class="b" points="4.6,3.7 5.5,15.4 6.5,25.5 8.3,38.9 12.9,61.7 22.2,80.9 31.5,87.6 40.8,88.6 50,89.3 59.3,89.3 68.6,89.3 77.9,89.3 87.1,89.3 96.4,89.3"/>
<polyline class="r" points="4.6,4.7 5.5,15.4 6.5,25.5 8.3,32.9 12.9,47.3 22.2,69.1 31.5,83.2 40.8,88.6 50,89.9 59.3,89.9 68.6,89.9 77.9,89.9 87.1,89.9 96.4,89.9"/>
<rect class="sp" width="101" height="95"/>
<path class="k" d="M0 73.2h-3.5M0 5h-2M0 17h-2M0 30h-2M0 46h-2M0 89h-2"/>
<g class="yl"><text x="-7" y="76.7">10<tspan dy="-4.3" font-size="7">3</tspan></text></g>
<g class="xl" transform="translate(0,101.5) rotate(-90)"><text y="8.2">0.01</text><text y="11.9">0.05</text><text y="16.5">0.10</text><text y="25.8">0.20</text><text y="35.1">0.30</text><text y="44.4">0.40</text><text y="53.6">0.50</text><text y="62.9">0.60</text><text y="72.2">0.70</text><text y="81.5">0.80</text><text y="90.7">0.90</text><text y="100">1.00</text></g>
<g class="lg" transform="translate(20,4)"><rect width="77" height="27" rx="2"/><polyline class="lb" points="3,7.5 11.5,7.5 20,7.5"/><polyline class="lr" points="3,19.5 11.5,19.5 20,19.5"/><text x="26" y="10.5">f27 p=2.0</text><text x="26" y="22.5">f27 p=3.75</text></g>
</g>

<!-- f28 -->
<g transform="translate(423.5,759.5)">
<use href="#vx"/>
<path class="g" d="M0 29.5H101M0 78.5H101"/>
<polyline class="b" points="4.6,3.7 5.5,13.8 6.5,20.5 8.3,33.9 12.9,53 22.2,76.5 31.5,81.9 40.8,85.2 50,86.9 59.3,87.9 68.6,88.6 77.9,89.3 87.1,89.9 96.4,90.3"/>
<polyline class="r" points="4.6,3.7 5.5,11.4 6.5,19.5 8.3,34.9 12.9,65.8 22.2,84.2 31.5,87.6 40.8,88.6 50,89.3 59.3,89.9 68.6,90.3 77.9,90.3 87.1,90.3 96.4,90.3"/>
<rect class="sp" width="101" height="95"/>
<path class="k" d="M0 29.5h-3.5M0 78.5h-3.5"/>
<g class="yl"><text x="-7" y="33">10<tspan dy="-4.3" font-size="7">4</tspan></text><text x="-7" y="82">10<tspan dy="-4.3" font-size="7">3</tspan></text></g>
<g class="xl" transform="translate(0,101.5) rotate(-90)"><text y="8.2">0.01</text><text y="11.9">0.05</text><text y="16.5">0.10</text><text y="25.8">0.20</text><text y="35.1">0.30</text><text y="44.4">0.40</text><text y="53.6">0.50</text><text y="62.9">0.60</text><text y="72.2">0.70</text><text y="81.5">0.80</text><text y="90.7">0.90</text><text y="100">1.00</text></g>
<g class="lg" transform="translate(20,4)"><rect width="77" height="27" rx="2"/><polyline class="lb" points="3,7.5 11.5,7.5 20,7.5"/><polyline class="lr" points="3,19.5 11.5,19.5 20,19.5"/><text x="26" y="10.5">f28 p=2.0</text><text x="26" y="22.5">f28 p=3.75</text></g>
</g>

<!-- f29 -->
<g transform="translate(572.5,759.5)">
<use href="#vx"/>
<path class="g" d="M0 45H101M0 93.3H101"/>
<polyline class="b" points="4.6,5.4 5.5,33.9 6.5,40.6 8.3,48.3 12.9,53 22.2,59.1 31.5,60.7 40.8,64.1 50,66.4 59.3,68.5 68.6,70.8 77.9,75.2 87.1,79.9 96.4,89.9"/>
<polyline class="r" points="4.6,3.7 5.5,28.9 6.5,38.9 8.3,47.3 12.9,51.7 22.2,55 31.5,56.4 40.8,58.1 50,59.1 59.3,60.7 68.6,62.4 77.9,66.4 87.1,76.5 96.4,89.9"/>
<rect class="sp" width="101" height="95"/>
<path class="k" d="M0 45h-3.5M0 93.3h-3.5"/>
<g class="yl"><text x="-7" y="48.5">10<tspan dy="-4.3" font-size="7">4</tspan></text><text x="-7" y="96.8">10<tspan dy="-4.3" font-size="7">3</tspan></text></g>
<g class="xl" transform="translate(0,101.5) rotate(-90)"><text y="8.2">0.01</text><text y="11.9">0.05</text><text y="16.5">0.10</text><text y="25.8">0.20</text><text y="35.1">0.30</text><text y="44.4">0.40</text><text y="53.6">0.50</text><text y="62.9">0.60</text><text y="72.2">0.70</text><text y="81.5">0.80</text><text y="90.7">0.90</text><text y="100">1.00</text></g>
<g class="lg" transform="translate(20,4)"><rect width="77" height="27" rx="2"/><polyline class="lb" points="3,7.5 11.5,7.5 20,7.5"/><polyline class="lr" points="3,19.5 11.5,19.5 20,19.5"/><text x="26" y="10.5">f29 p=2.0</text><text x="26" y="22.5">f29 p=3.75</text></g>
</g>

<!-- f30 -->
<g transform="translate(722.5,759.5)">
<use href="#vx"/>
<path class="g" d="M0 20.5H101M0 45H101M0 69.8H101M0 94.6H101"/>
<polyline class="b" points="4.6,3.7 5.5,8.7 6.5,13.8 8.3,23.8 12.9,44 22.2,64.1 31.5,77.5 40.8,84.2 50,87.6 59.3,89.3 68.6,90.3 77.9,90.3 87.1,90.3 96.4,90.3"/>
<polyline class="r" points="4.6,3.7 5.5,7 6.5,11.4 8.3,19.5 12.9,33.9 22.2,64.1 31.5,80.9 40.8,86.6 50,89.3 59.3,90.3 68.6,90.3 77.9,90.3 87.1,90.3 96.4,90.3"/>
<rect class="sp" width="101" height="95"/>
<path class="k" d="M0 20.5h-3.5M0 45h-3.5M0 69.8h-3.5M0 94.6h-3.5"/>
<g class="yl"><text x="-7" y="24">10<tspan dy="-4.3" font-size="7">9</tspan></text><text x="-7" y="48.5">10<tspan dy="-4.3" font-size="7">7</tspan></text><text x="-7" y="73.3">10<tspan dy="-4.3" font-size="7">5</tspan></text><text x="-7" y="98.1">10<tspan dy="-4.3" font-size="7">3</tspan></text></g>
<g class="xl" transform="translate(0,101.5) rotate(-90)"><text y="8.2">0.01</text><text y="11.9">0.05</text><text y="16.5">0.10</text><text y="25.8">0.20</text><text y="35.1">0.30</text><text y="44.4">0.40</text><text y="53.6">0.50</text><text y="62.9">0.60</text><text y="72.2">0.70</text><text y="81.5">0.80</text><text y="90.7">0.90</text><text y="100">1.00</text></g>
<g class="lg" transform="translate(20,4)"><rect width="77" height="27" rx="2"/><polyline class="lb" points="3,7.5 11.5,7.5 20,7.5"/><polyline class="lr" points="3,19.5 11.5,19.5 20,19.5"/><text x="26" y="10.5">f30 p=2.0</text><text x="26" y="22.5">f30 p=3.75</text></g>
</g>

<!-- watermark -->
<g>
<text x="15" y="625" font-size="118" font-weight="bold" textLength="870" lengthAdjust="spacingAndGlyphs" style="font-family:'Liberation Sans',sans-serif;fill:#000;fill-opacity:.06">SCITEPRESS</text>
<text x="15" y="681" font-size="27" font-weight="bold" textLength="875" lengthAdjust="spacingAndGlyphs" style="font-family:'Liberation Sans',sans-serif;fill:#000;fill-opacity:.06">SCIENCE AND TECHNOLOGY PUBLICATIONS</text>
</g>
</svg>
</body></html>
